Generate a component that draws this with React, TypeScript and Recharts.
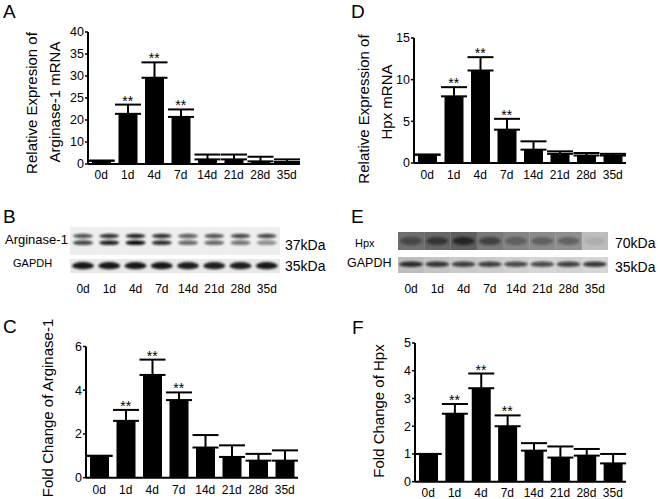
import React from 'react';
import { ComposedChart, BarChart, Bar, Line, XAxis, YAxis, ErrorBar } from 'recharts';

const FONT = '"Liberation Sans", Arial, sans-serif';

const days = ['0d', '1d', '4d', '7d', '14d', '21d', '28d', '35d'];
const significant = [false, true, true, true, false, false, false, false];

// A - Arginase-1 mRNA (segmented axis: 0,10,20,25,30,35,40 evenly spaced)
const argMrna = [1.5, 21.4, 29.6, 20.7, 2.1, 2.1, 1.2, 0.9];
const argMrnaTop = [1.5, 23.5, 33.1, 22.4, 4.3, 4.3, 3.3, 2.1];
const argMrnaTicks = [0, 10, 20, 25, 30, 35, 40];

// D - Hpx mRNA
const hpxMrna = [1.0, 8.0, 11.1, 4.0, 1.6, 1.1, 0.9, 0.9];
const hpxMrnaTop = [1.0, 9.1, 12.7, 5.3, 2.6, 1.4, 1.2, 1.1];
const hpxMrnaTicks = [0, 5, 10, 15];

// C - fold change Arginase-1
const argFold = [1.0, 2.6, 4.7, 3.55, 1.38, 0.95, 0.78, 0.78];
const argFoldTop = [1.0, 3.1, 5.4, 3.9, 1.95, 1.48, 1.09, 1.25];
const argFoldTicks = [0, 2, 4, 6];

// F - fold change Hpx
const hpxFold = [1.0, 2.45, 3.37, 2.0, 1.12, 0.87, 0.94, 0.66];
const hpxFoldTop = [1.0, 2.8, 3.9, 2.39, 1.39, 1.27, 1.18, 1.0];
const hpxFoldTicks = [0, 1, 2, 3, 4, 5];

// western blot band darkness (0..1)
const argUpperBand = [0.7, 0.85, 0.9, 0.85, 0.65, 0.7, 0.75, 0.75];
const argLowerBand = [0.75, 0.9, 1.0, 0.85, 0.6, 0.6, 0.55, 0.45];
const gapdhBBand = [0.95, 0.95, 0.95, 0.95, 0.92, 0.92, 0.92, 0.95];
const hpxBand = [0.45, 0.6, 0.75, 0.55, 0.35, 0.3, 0.3, 0.08];
const hpxLaneShade = [0.57, 0.6, 0.63, 0.53, 0.48, 0.46, 0.44, 0.26];
const gapdhEBand = [0.85, 0.8, 0.75, 0.75, 0.7, 0.7, 0.75, 0.8];
const gapdhELaneShade = [0.26, 0.23, 0.21, 0.2, 0.18, 0.16, 0.18, 0.16];

// piecewise mapping so uneven ticks sit evenly spaced
const segment = (v: number, ticks: number[]) => {
  for (let i = 1; i < ticks.length; i++) {
    if (v <= ticks[i]) return i - 1 + (v - ticks[i - 1]) / (ticks[i] - ticks[i - 1]);
  }
  return ticks.length - 1;
};

const starDot = (props: any) => {
  const { cx, cy, value, index } = props;
  if (value == null || cy == null) return <g key={`s${index}`} />;
  return (
    <text key={`s${index}`} x={cx} y={cy + 1} textAnchor="middle" fontSize={14} fontFamily={FONT} fill="#000">
      **
    </text>
  );
};

interface BarPanelProps {
  left: number;
  top: number;
  width: number;
  height: number;
  marginTop: number;
  marginRight: number;
  yWidth: number;
  xHeight: number;
  xGap: number;
  values: number[];
  tops: number[];
  ticks: number[];
  warp?: boolean;
}

function BarPanel(p: BarPanelProps) {
  const f = p.warp ? (v: number) => segment(v, p.ticks) : (v: number) => v;
  const data = days.map((day, i) => ({
    day,
    v: f(p.values[i]),
    err: [0, f(p.tops[i]) - f(p.values[i])],
    star: significant[i] ? f(p.tops[i]) : null
  }));
  const yTicks = p.ticks.map(f);
  return (
    <div style={{ position: 'absolute', left: p.left, top: p.top }}>
      <ComposedChart
        width={p.width}
        height={p.height}
        data={data}
        margin={{ top: p.marginTop, right: p.marginRight, bottom: 0, left: 0 }}
      >
        <XAxis
          dataKey="day"
          interval={0}
          height={p.xHeight}
          tickLine={false}
          tickSize={2}
          tickMargin={p.xGap}
          axisLine={{ stroke: '#000', strokeWidth: 2 }}
          tick={{ fill: '#000', fontSize: 12, fontFamily: FONT }}
        />
        <YAxis
          width={p.yWidth}
          domain={[yTicks[0], yTicks[yTicks.length - 1]]}
          ticks={yTicks}
          interval={0}
          tickFormatter={(t: number) => String(p.ticks[yTicks.findIndex((y) => Math.abs(y - t) < 1e-6)])}
          tickSize={3}
          tickMargin={1}
          axisLine={{ stroke: '#000', strokeWidth: 2 }}
          tickLine={{ stroke: '#000', strokeWidth: 1.5 }}
          tick={{ fill: '#000', fontSize: 12.5, fontFamily: FONT }}
        />
        <Bar dataKey="v" fill="#000" barSize={19} isAnimationActive={false}>
          <ErrorBar dataKey="err" direction="y" width={13} stroke="#000" strokeWidth={2} isAnimationActive={false} />
        </Bar>
        <Line dataKey="star" stroke="none" dot={starDot} activeDot={false} isAnimationActive={false} />
      </ComposedChart>
    </div>
  );
}

interface Band {
  values: number[];
  pos: number;
  rx: number;
  ry: number;
}

interface BlotRowProps {
  left: number;
  top: number;
  width: number;
  rowHeight: number;
  shade: number[];
  bands: Band[];
  labels?: boolean;
}

const grey = (d: number) => {
  const c = Math.round(255 * (1 - d));
  return `rgb(${c},${c},${c})`;
};

function BlotRow(p: BlotRowProps) {
  const data = days.map((day, i) => ({ day, full: 1, i }));
  const shape = (props: any) => {
    const { x, y, width, height, payload } = props;
    const i = payload.i;
    return (
      <g key={`lane${i}`}>
        <rect x={x} y={y} width={width + 0.5} height={height} fill={grey(p.shade[i])} />
        <g filter="url(#blotBlur)">
          {p.bands.map((b, k) => (
            <ellipse
              key={k}
              cx={x + width / 2}
              cy={y + height * b.pos}
              rx={b.rx}
              ry={b.ry}
              fill="#111"
              fillOpacity={b.values[i]}
            />
          ))}
        </g>
      </g>
    );
  };
  return (
    <div style={{ position: 'absolute', left: p.left, top: p.top }}>
      <BarChart
        width={p.width}
        height={p.rowHeight + (p.labels ? 24 : 0)}
        data={data}
        margin={{ top: 0, right: 0, bottom: 0, left: 0 }}
        barCategoryGap={0}
        barGap={0}
      >
        <XAxis
          dataKey="day"
          hide={!p.labels}
          interval={0}
          height={24}
          axisLine={false}
          tickLine={false}
          tickSize={6}
          tickMargin={5}
          tick={{ fill: '#000', fontSize: 12, fontFamily: FONT }}
        />
        <YAxis hide domain={[0, 1]} />
        <Bar dataKey="full" shape={shape} isAnimationActive={false} />
      </BarChart>
    </div>
  );
}

const txt = { fontFamily: FONT, fill: '#000' };

export default function App() {
  return (
    <div style={{ position: 'absolute', left: 0, top: 0, width: 660, height: 499, background: '#fff', overflow: 'hidden' }}>
      <svg width={0} height={0} style={{ position: 'absolute' }}>
        <defs>
          <filter id="blotBlur" x="-30%" y="-80%" width="160%" height="260%">
            <feGaussianBlur stdDeviation={0.9} />
          </filter>
        </defs>
      </svg>

      <BarPanel left={0} top={0} width={310} height={190} marginTop={32} marginRight={10} yWidth={88} xHeight={26} xGap={4}
        values={argMrna} tops={argMrnaTop} ticks={argMrnaTicks} warp />
      <BarPanel left={330} top={0} width={306} height={190} marginTop={38} marginRight={10} yWidth={84} xHeight={27} xGap={5}
        values={hpxMrna} tops={hpxMrnaTop} ticks={hpxMrnaTicks} />
      <BarPanel left={0} top={300} width={310} height={199} marginTop={46.5} marginRight={12} yWidth={86} xHeight={21.3} xGap={6}
        values={argFold} tops={argFoldTop} ticks={argFoldTicks} />
      <BarPanel left={330} top={300} width={306} height={199} marginTop={43} marginRight={10} yWidth={85} xHeight={17.3} xGap={5}
        values={hpxFold} tops={hpxFoldTop} ticks={hpxFoldTicks} />

      <BlotRow left={70} top={227} width={210} rowHeight={28} shade={days.map(() => 0.065)}
        bands={[{ values: argUpperBand, pos: 0.32, rx: 10, ry: 2.2 }, { values: argLowerBand, pos: 0.56, rx: 10, ry: 2.4 }]} />
      <BlotRow left={70} top={259} width={210} rowHeight={14} shade={days.map(() => 0.09)} labels
        bands={[{ values: gapdhBBand, pos: 0.48, rx: 11, ry: 3.6 }]} />
      <BlotRow left={398} top={232} width={210} rowHeight={18} shade={hpxLaneShade}
        bands={[{ values: hpxBand, pos: 0.5, rx: 11, ry: 4 }]} />
      <BlotRow left={398} top={257} width={210} rowHeight={16} shade={gapdhELaneShade} labels
        bands={[{ values: gapdhEBand, pos: 0.45, rx: 12, ry: 2.8 }]} />

      <svg width={660} height={499} style={{ position: 'absolute', left: 0, top: 0, pointerEvents: 'none' }}>
        <g style={txt as any} fontSize={19}>
          <text x={3} y={18}>A</text>
          <text x={351} y={18}>D</text>
          <text x={3} y={223}>B</text>
          <text x={351} y={223}>E</text>
          <text x={3} y={333}>C</text>
          <text x={352} y={334}>F</text>
        </g>
        <g style={txt as any} fontSize={15} textAnchor="middle">
          <text transform="translate(37,103) rotate(-90)">Relative Expresion of</text>
          <text transform="translate(60,102) rotate(-90)">Arginase-1 mRNA</text>
          <text transform="translate(369,109) rotate(-90)">Relative Expression of</text>
          <text transform="translate(392,102) rotate(-90)">Hpx mRNA</text>
          <text transform="translate(53,408) rotate(-90)">Fold Change of Arginase-1</text>
          <text transform="translate(384,411) rotate(-90)">Fold Change of Hpx</text>
        </g>
        <g style={txt as any}>
          <text x={5} y={244} fontSize={13}>Arginase-1</text>
          <text x={13} y={267} fontSize={11}>GAPDH</text>
          <text x={285} y={250} fontSize={14}>37kDa</text>
          <text x={285} y={271} fontSize={14}>35kDa</text>
          <text x={355} y={247} fontSize={11}>Hpx</text>
          <text x={347} y={267} fontSize={12.5}>GAPDH</text>
          <text x={615} y={248} fontSize={14}>70kDa</text>
          <text x={615} y={272} fontSize={14}>35kDa</text>
        </g>
      </svg>
    </div>
  );
}
